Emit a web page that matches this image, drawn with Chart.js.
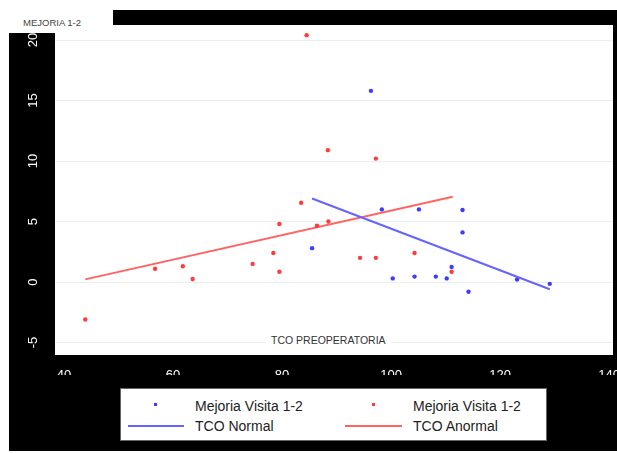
<!DOCTYPE html>
<html>
<head>
<meta charset="utf-8">
<script src="https://cdn.jsdelivr.net/npm/chart.js@4/dist/chart.umd.min.js"></script>
<style>
  body { margin: 0; width: 617px; height: 453px; background: #fff; position: relative; overflow: hidden; font-family: "Liberation Sans", Arial, sans-serif; }
  #negro { position: absolute; left: 9px; top: 10px; width: 608px; height: 441px; background: #000; }
  #grafico { position: absolute; left: 0; top: 0; }
  #etiqueta { position: absolute; left: 0; top: 0; width: 113px; height: 33px; background: #fff; }
  #etiqueta span { position: absolute; left: 23px; top: 17px; font-size: 9.5px; color: #444; }
  #tituloX { position: absolute; left: 266px; top: 334px; padding: 0 5px; background: #fff; font-size: 10.5px; color: #333; }
  #leyenda { position: absolute; left: 120px; top: 388px; width: 425px; height: 51px; background: #fff; border: 1px solid #666; }
  .item { position: absolute; font-size: 14px; color: #222; line-height: 16px; }
  .punto { position: absolute; width: 3px; height: 3px; }
  .linea { position: absolute; height: 2px; }
</style>
</head>
<body>
<div id="negro"></div>
<canvas id="grafico" width="617" height="453"></canvas>
<div id="etiqueta"><span>MEJORIA 1-2</span></div>
<div id="tituloX">TCO PREOPERATORIA</div>
<div id="leyenda">
  <div class="punto" style="left:33px;top:14px;background:#3c3cff"></div>
  <div class="item" style="left:74px;top:9px">Mejoria Visita 1-2</div>
  <div class="punto" style="left:251px;top:14px;background:#ff3c3c"></div>
  <div class="item" style="left:292px;top:9px">Mejoria Visita 1-2</div>
  <div class="linea" style="left:7px;top:36px;width:56px;background:#6464ff"></div>
  <div class="item" style="left:74px;top:29px">TCO Normal</div>
  <div class="linea" style="left:224px;top:36px;width:57px;background:#ff6464"></div>
  <div class="item" style="left:292px;top:29px">TCO Anormal</div>
</div>

<script>
// ======= DATOS =======
const xTicks = [40, 60, 80, 100, 120, 140];
const yTicks = [-5, 0, 5, 10, 15, 20];

// TCO normal (azul)
const normalX = [85.5, 96.3, 98.3, 100.3, 104.3, 105.1, 108.2, 110.2, 111.1, 113.1, 113.1, 114.2, 123.1, 129.1];
const normalY = [2.8, 15.8, 6.0, 0.3, 0.45, 6.0, 0.45, 0.3, 1.25, 5.95, 4.1, -0.8, 0.2, -0.15];

// TCO anormal (rojo)
const anormalX = [43.9, 56.7, 61.8, 63.6, 74.6, 78.4, 79.5, 79.5, 83.5, 84.5, 86.4, 88.5, 88.4, 94.3, 97.2, 97.2, 104.3, 111.1];
const anormalY = [-3.1, 1.1, 1.3, 0.25, 1.5, 2.4, 0.85, 4.8, 6.55, 20.4, 4.65, 5.0, 10.9, 2.0, 2.0, 10.2, 2.4, 0.85];

// rectas de ajuste (extremos)
const ajusteNormalX = [85.5, 129.1];
const ajusteNormalY = [6.9, -0.6];
const ajusteAnormalX = [43.9, 111.3];
const ajusteAnormalY = [0.22, 7.05];

const pares = (xs, ys) => xs.map((x, i) => ({ x, y: ys[i] }));

// ======= FONDO Y ETIQUETAS Y =======
const fondo = {
  id: "fondo",
  beforeDraw(chart) {
    const { ctx, chartArea: a } = chart;
    ctx.save();
    ctx.fillStyle = "#fff";
    ctx.fillRect(a.left, a.top, a.right - a.left, a.bottom - a.top);
    ctx.restore();
  },
  afterDraw(chart) {
    const { ctx, scales: { y } } = chart;
    ctx.save();
    ctx.fillStyle = "#fff";
    ctx.font = '13px "Liberation Sans", Arial, sans-serif';
    ctx.textAlign = "center";
    ctx.textBaseline = "middle";
    yTicks.forEach(v => {
      ctx.save();
      ctx.translate(33, y.getPixelForValue(v));
      ctx.rotate(-Math.PI / 2);
      ctx.fillText(String(v), 0, 0);
      ctx.restore();
    });
    ctx.restore();
  }
};

// ======= GRÁFICO =======
new Chart(document.getElementById("grafico"), {
  type: "scatter",
  data: {
    datasets: [
      { label: "Mejoria Visita 1-2", data: pares(normalX, normalY), backgroundColor: "#3c3cff", borderColor: "#3c3cff", pointRadius: 2.2, pointBorderWidth: 0 },
      { label: "Mejoria Visita 1-2", data: pares(anormalX, anormalY), backgroundColor: "#ff3c3c", borderColor: "#ff3c3c", pointRadius: 2.2, pointBorderWidth: 0 },
      { label: "TCO Normal", data: pares(ajusteNormalX, ajusteNormalY), showLine: true, borderColor: "#6464ff", borderWidth: 2, pointRadius: 0 },
      { label: "TCO Anormal", data: pares(ajusteAnormalX, ajusteAnormalY), showLine: true, borderColor: "#ff6464", borderWidth: 2, pointRadius: 0 }
    ]
  },
  options: {
    responsive: false,
    animation: false,
    events: [],
    layout: { padding: { left: 55, right: 4, top: 25, bottom: 78 } },
    plugins: { legend: { display: false }, tooltip: { enabled: false } },
    scales: {
      x: {
        type: "linear",
        min: 38.35,
        max: 140.7,
        afterBuildTicks: s => { s.ticks = xTicks.map(v => ({ value: v })); },
        afterFit: s => { s.height = 20; s.paddingLeft = 0; s.paddingRight = 0; },
        grid: { display: false },
        border: { display: false },
        ticks: { color: "#fff", padding: 5, maxRotation: 0, font: { size: 13, family: '"Liberation Sans", Arial, sans-serif' } }
      },
      y: {
        min: -6.03,
        max: 21.24,
        afterBuildTicks: s => { s.ticks = yTicks.map(v => ({ value: v })); },
        afterFit: s => { s.width = 0; },
        grid: { color: "#e9efed", lineWidth: 1, drawTicks: false },
        border: { display: false },
        ticks: { display: false }
      }
    }
  },
  plugins: [fondo]
});
</script>
</body>
</html>
